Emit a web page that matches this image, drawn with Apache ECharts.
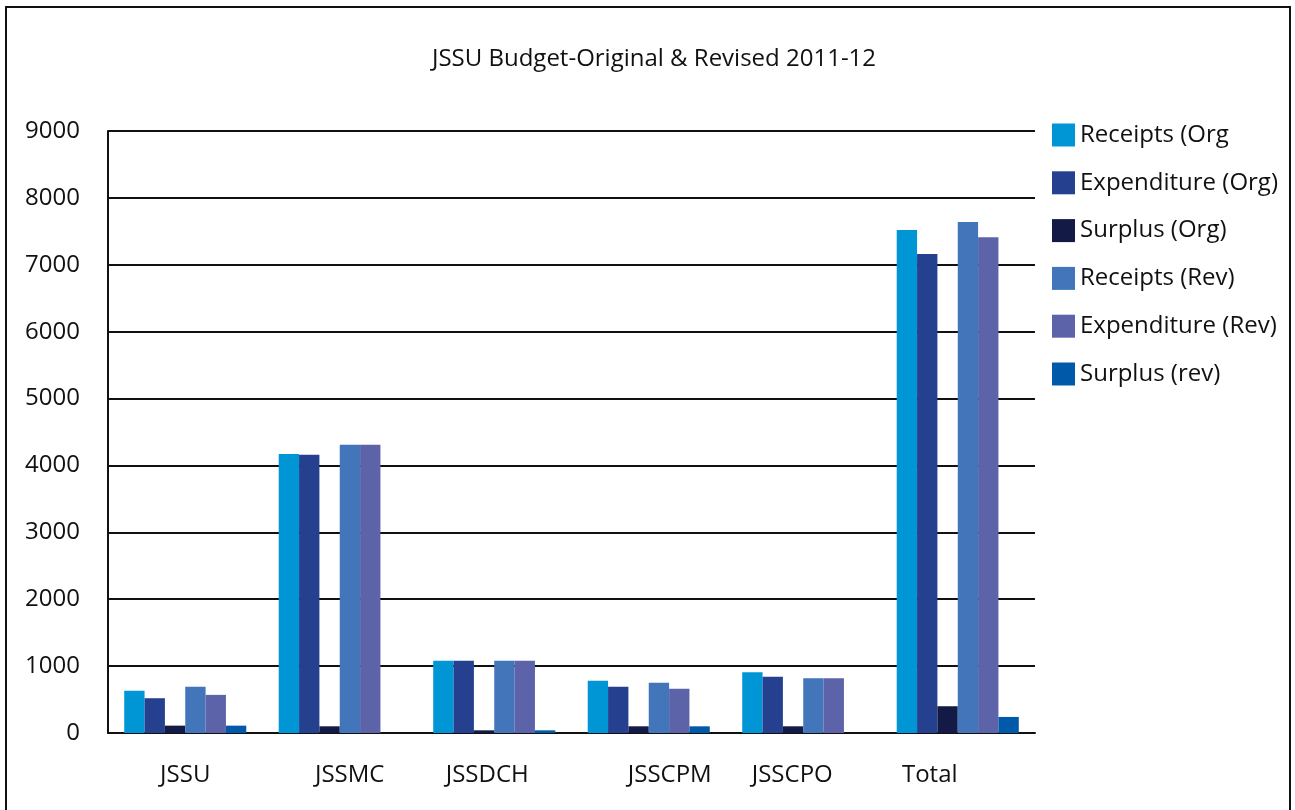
<!DOCTYPE html>
<html>
<head>
<meta charset="utf-8">
<script src="https://cdn.jsdelivr.net/npm/echarts@6/dist/echarts.min.js"></script>
<style>html,body{margin:0;padding:0;background:#fff}#c{width:1295px;height:810px}</style>
</head>
<body>
<div id="c"></div>
<script>
const categories = ['JSSU', 'JSSMC', 'JSSDCH', 'JSSCPM', 'JSSCPO', 'Total'];
const seriesNames = ['Receipts (Org', 'Expenditure (Org)', 'Surplus (Org)', 'Receipts (Rev)', 'Expenditure (Rev)', 'Surplus (rev)'];
const receiptsOrg = [630, 4170, 1080, 780, 910, 7520];
const expenditureOrg = [520, 4160, 1080, 690, 840, 7160];
const surplusOrg = [110, 100, 40, 100, 100, 400];
const receiptsRev = [690, 4310, 1080, 750, 820, 7640];
const expenditureRev = [570, 4310, 1080, 660, 820, 7410];
const surplusRev = [110, 0, 40, 100, 0, 240];
const yTicks = [0, 1000, 2000, 3000, 4000, 5000, 6000, 7000, 8000, 9000];

const values = [receiptsOrg, expenditureOrg, surplusOrg, receiptsRev, expenditureRev, surplusRev];
const colors = ['#0096D6', '#25408F', '#131A45', '#4275B9', '#5C63A9', '#005AA9'];
const font = 'Open Sans';
const fs = 24;

// horizontal nudges of the category labels as typeset in the original (layout only)
const labelShift = [0, 10, -7, 21, -11, -28];
const rich = {};
labelShift.forEach((s, i) => {
  rich['l' + i] = {
    fontFamily: font, fontSize: fs, color: '#111',
    padding: s >= 0 ? [0, 0, 0, 2 * s] : [0, -2 * s, 0, 0]
  };
});

const chart = echarts.init(document.getElementById('c'), null, {renderer: 'canvas'});
chart.setOption({
  animation: false,
  backgroundColor: '#fff',
  title: {
    text: 'JSSU Budget-Original & Revised 2011-12',
    left: 649, top: 42, textAlign: 'center',
    textStyle: {fontFamily: font, fontSize: fs, fontWeight: 'normal', color: '#111'}
  },
  graphic: [{
    type: 'rect', shape: {x: 6, y: 7, width: 1284, height: 820},
    style: {fill: 'none', stroke: '#111', lineWidth: 2}, silent: true
  }],
  legend: {
    orient: 'vertical', left: 1052, top: 123, padding: 0,
    itemWidth: 23, itemHeight: 23, itemGap: 23.8,
    icon: 'rect',
    textStyle: {fontFamily: font, fontSize: fs, lineHeight: 23, color: '#111'},
    data: seriesNames
  },
  grid: {left: 108, right: 260, top: 131, bottom: 77, containLabel: false},
  xAxis: {
    type: 'category', data: categories,
    axisLine: {lineStyle: {color: '#111', width: 2}},
    axisTick: {show: false},
    axisLabel: {
      interval: 0, hideOverlap: false,
      fontFamily: font, fontSize: fs, color: '#111', margin: 30,
      formatter: (v, i) => '{l' + i + '|' + v + '}',
      rich: rich
    }
  },
  yAxis: {
    type: 'value', min: yTicks[0], max: yTicks[yTicks.length - 1], interval: 1000,
    axisLine: {show: true, lineStyle: {color: '#111', width: 2}},
    axisTick: {show: false},
    splitLine: {lineStyle: {color: '#111', width: 2}},
    axisLabel: {fontFamily: font, fontSize: fs, color: '#111', margin: 28, formatter: v => String(v)}
  },
  series: seriesNames.map((n, i) => ({
    name: n, type: 'bar', data: values[i],
    barGap: '0%', barCategoryGap: '21%',
    itemStyle: {color: colors[i]}
  }))
});
</script>
</body>
</html>
